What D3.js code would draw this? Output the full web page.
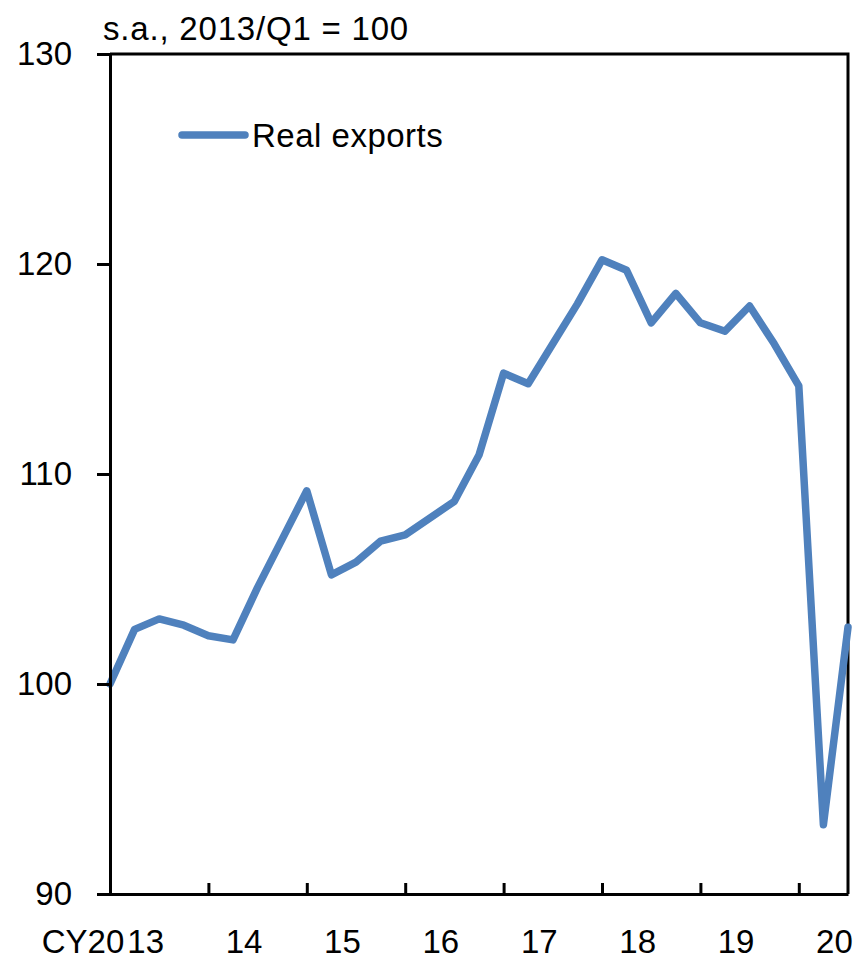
<!DOCTYPE html>
<html>
<head>
<meta charset="utf-8">
<script src="https://cdn.jsdelivr.net/npm/d3@7"></script>
<style>
  html, body { margin: 0; padding: 0; background: #fff; }
  svg text { font-family: "Liberation Sans", Arial, sans-serif; fill: #000; }
</style>
</head>
<body>
<div id="chart"></div>
<script>
// quarterly, 2013Q1 .. 2020Q3
var quarters = ['2013Q1','2013Q2','2013Q3','2013Q4',
    '2014Q1','2014Q2','2014Q3','2014Q4',
    '2015Q1','2015Q2','2015Q3','2015Q4',
    '2016Q1','2016Q2','2016Q3','2016Q4',
    '2017Q1','2017Q2','2017Q3','2017Q4',
    '2018Q1','2018Q2','2018Q3','2018Q4',
    '2019Q1','2019Q2','2019Q3','2019Q4',
    '2020Q1','2020Q2','2020Q3'];
var realExports = [100.0, 102.6, 103.1, 102.8,
    102.3, 102.1, 104.6, 106.9,
    109.2, 105.2, 105.8, 106.8,
    107.1, 107.9, 108.7, 110.9,
    114.8, 114.3, 116.2, 118.1,
    120.2, 119.7, 117.2, 118.6,
    117.2, 116.8, 118.0, 116.2,
    114.2, 93.3, 102.7];
var yearLabels = ['13', '14', '15', '16', '17', '18', '19', '20'];
var yTicks = [90, 100, 110, 120, 130];

// (careful: "top" is window.top, so plot edges get their own names)
var width = 859, height = 961,
    plotLeft = 110, plotRight = 848, plotTop = 54, plotBottom = 894,
    fontSize = 33;

var svg = d3.select('#chart').append('svg')
    .attr('width', width)
    .attr('height', height);

var x = d3.scaleLinear().domain([0, quarters.length - 1]).range([plotLeft, plotRight]);
var y = d3.scaleLinear().domain([90, 130]).range([plotBottom, plotTop]);

// plot frame (top and right sides)
svg.append('path')
    .attr('d', 'M' + plotLeft + ',' + plotTop + 'H' + plotRight + 'V' + plotBottom)
    .attr('fill', 'none')
    .attr('stroke', '#000')
    .attr('stroke-width', 3);

// series
var line = d3.line()
    .x(function(d, i) { return x(i); })
    .y(function(d) { return y(d); });

svg.append('path')
    .datum(realExports)
    .attr('d', line)
    .attr('fill', 'none')
    .attr('stroke', '#4F81BD')
    .attr('stroke-width', 7.5)
    .attr('stroke-linejoin', 'round')
    .attr('stroke-linecap', 'round');

// y axis
var yAxis = svg.append('g')
    .attr('transform', 'translate(' + plotLeft + ',0)')
    .call(d3.axisLeft(y).tickValues(yTicks).tickSize(13).tickPadding(25).tickFormat(d3.format('d')));
yAxis.select('.domain').attr('stroke-width', 3);
yAxis.selectAll('.tick line').attr('stroke-width', 3);
yAxis.selectAll('.tick text')
    .style('font-size', fontSize + 'px')
    .attr('font-family', null);

// x axis: ticks at the first quarter of each year, pointing inward
var yearTicks = d3.range(0, quarters.length, 4);
var xAxis = svg.append('g')
    .attr('transform', 'translate(0,' + plotBottom + ')')
    .call(d3.axisTop(x).tickValues(yearTicks).tickSize(11).tickSizeOuter(0).tickFormat(''));
xAxis.select('.domain').attr('stroke-width', 3);
xAxis.selectAll('.tick line').attr('stroke-width', 3);

// year labels sit a bit to the right of each tick
var labelY = 953;
var labels = svg.append('g').selectAll('text')
    .data(yearLabels).enter()
    .append('text')
    .attr('x', function(d, i) { return x(i * 4 + 1.45); })
    .attr('y', labelY)
    .attr('text-anchor', 'middle')
    .style('font-size', fontSize + 'px')
    .text(function(d) { return d; });

var firstW = labels.node().getComputedTextLength();
svg.append('text')
    .attr('x', x(1.45) - firstW / 2 - 3)
    .attr('y', labelY)
    .attr('text-anchor', 'end')
    .style('font-size', fontSize + 'px')
    .text('CY20');

// unit note
svg.append('text')
    .attr('x', 103)
    .attr('y', 40)
    .style('font-size', fontSize + 'px')
    .style('letter-spacing', '0.8px')
    .text('s.a., 2013/Q1 = 100');

// legend
svg.append('line')
    .attr('x1', 182).attr('x2', 245)
    .attr('y1', 135).attr('y2', 135)
    .attr('stroke', '#4F81BD')
    .attr('stroke-width', 7.5)
    .attr('stroke-linecap', 'round');
svg.append('text')
    .attr('x', 252)
    .attr('y', 147)
    .style('font-size', fontSize + 'px')
    .style('letter-spacing', '0.5px')
    .text('Real exports');
</script>
</body>
</html>
